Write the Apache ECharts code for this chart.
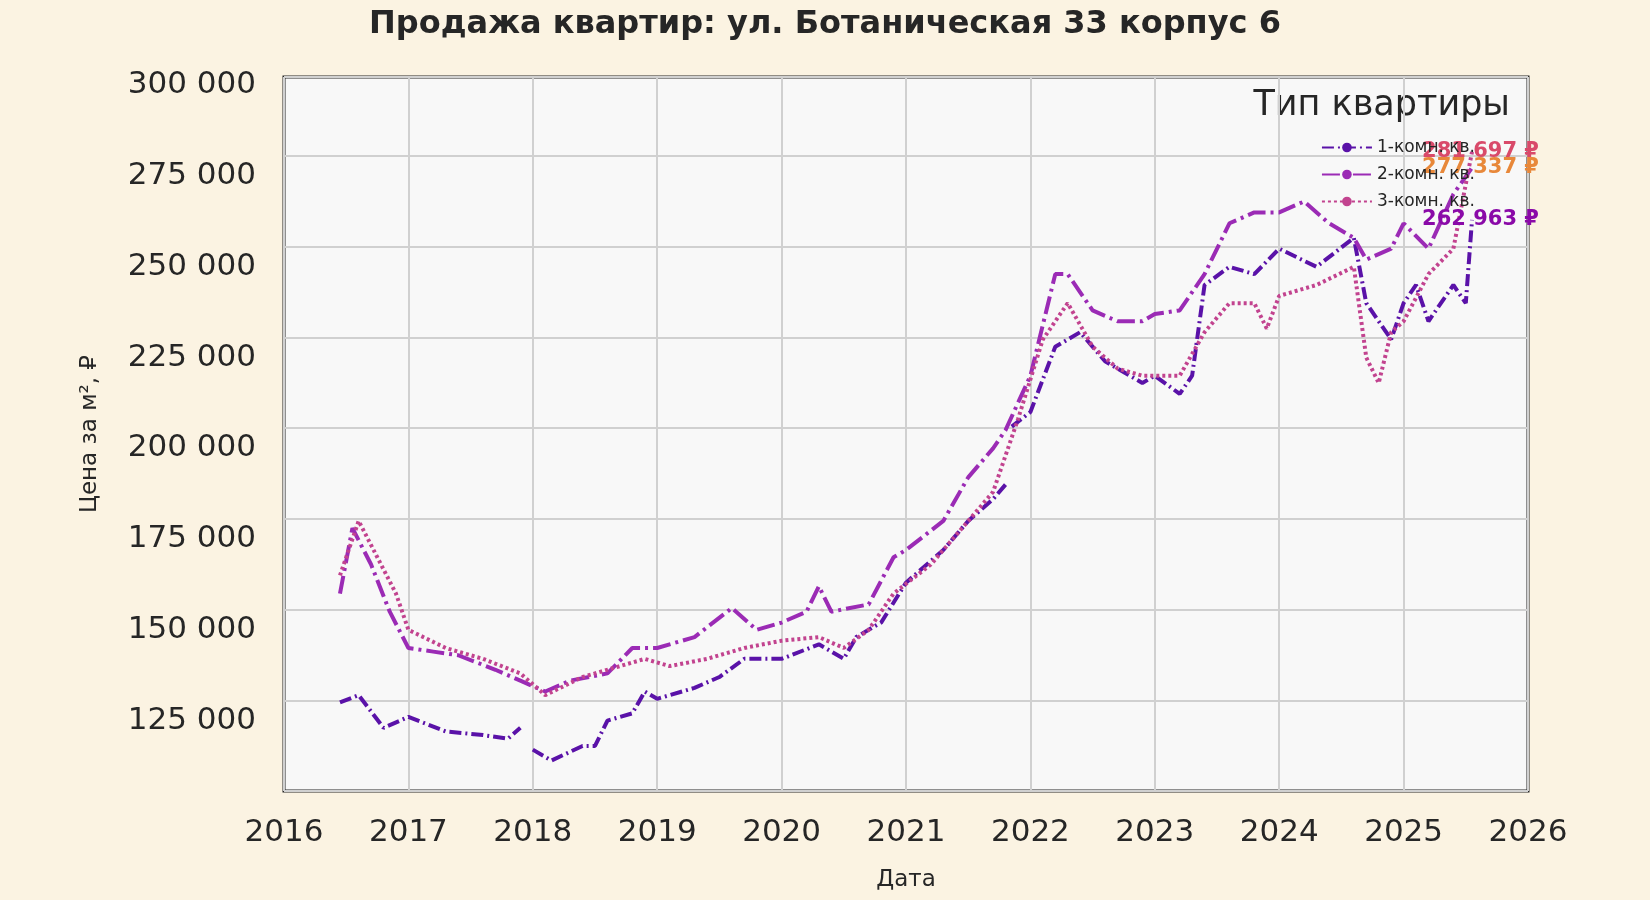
<!DOCTYPE html><html><head><meta charset="utf-8"><script src="https://cdn.jsdelivr.net/npm/echarts@6/dist/echarts.min.js"></script>
<style>html,body{margin:0;background:#fbf3e2}#c{width:1650px;height:900px}</style></head><body><div id="c"></div><script>
const names=['1-комн. кв.','2-комн. кв.','3-комн. кв.'];
const yearTicks=[2016,2017,2018,2019,2020,2021,2022,2023,2024,2025,2026];
const s1x=[2016.45,2016.6,2016.8,2017.0,2017.3,2017.6,2017.8,2017.9,null,2018.0,2018.15,2018.4,2018.5,2018.6,2018.8,2018.9,2019.0,2019.3,2019.5,2019.7,2020.0,2020.3,2020.5,2020.6,2020.8,2021.0,2021.3,2021.5,2021.7,2021.8,null,2021.85,2022.0,2022.2,2022.4,2022.6,2022.9,2023.0,2023.2,2023.3,2023.4,2023.6,2023.8,2024.0,2024.3,2024.6,2024.7,2024.9,2025.0,2025.1,2025.2,2025.4,2025.5,2025.55];
const s1y=[130000,132000,123000,126000,122000,121000,120000,123000,null,117000,114000,118000,118000,125000,127000,133000,131000,134000,137000,142000,142000,146000,142000,148000,152000,163000,172000,180000,186000,190000,null,206000,210000,228000,232000,224000,218000,220000,215000,220000,245000,250000,248000,255000,250000,258000,240000,230000,240000,245000,235000,245000,240000,262963];
const s2x=[2016.45,2016.55,2016.7,2016.85,2017.0,2017.2,2017.4,2017.7,2017.9,2018.1,2018.3,2018.6,2018.8,2019.0,2019.3,2019.6,2019.8,2020.0,2020.2,2020.3,2020.4,2020.7,2020.9,2021.0,2021.3,2021.5,2021.7,2021.8,2022.0,2022.2,2022.3,2022.5,2022.7,2022.9,2023.0,2023.2,2023.4,2023.6,2023.8,2024.0,2024.2,2024.4,2024.6,2024.7,2024.9,2025.0,2025.2,2025.4,2025.55];
const s2y=[160000,178000,168000,155000,145000,144000,143000,139000,136000,133000,136000,138000,145000,145000,148000,156000,150000,152000,155000,162000,155000,157000,170000,172000,180000,192000,200000,205000,220000,248000,248000,238000,235000,235000,237000,238000,248000,262000,265000,265000,268000,262000,258000,252000,255000,262000,255000,270000,277337];
const s3x=[2016.45,2016.6,2016.75,2016.9,2017.0,2017.3,2017.6,2017.9,2018.1,2018.4,2018.7,2018.9,2019.1,2019.4,2019.7,2020.0,2020.3,2020.5,2020.7,2020.9,2021.2,2021.5,2021.7,2021.9,2022.1,2022.3,2022.5,2022.7,2022.9,2023.2,2023.4,2023.6,2023.8,2023.9,2024.0,2024.3,2024.6,2024.7,2024.8,2024.9,2025.0,2025.2,2025.4,2025.55];
const s3y=[165000,180000,170000,160000,150000,145000,142000,138000,132000,137000,140000,142000,140000,142000,145000,147000,148000,145000,150000,160000,168000,180000,188000,208000,230000,240000,228000,222000,220000,220000,232000,240000,240000,233000,242000,245000,250000,225000,218000,232000,235000,248000,255000,281697];
const colors=['#5a12a8','#9b2bb5','#c2438f'];
const endColors=['#8a0aa8','#e8883a','#d94a6a'];
const dashes=[[12,4,2,4],[18,5,3,5],[3,3]];
const fmt=v=>String(Math.round(v)).replace(/\B(?=(\d{3})+(?!\d))/g,' ');
const zip=(x,y)=>x.map((v,i)=>v===null?[null,null]:[v,y[i]]);
const data=[zip(s1x,s1y),zip(s2x,s2y),zip(s3x,s3y)];
const ch=echarts.init(document.getElementById('c'));
ch.setOption({backgroundColor:'#fbf3e2',
title:{text:'Продажа квартир: ул. Ботаническая 33 корпус 6',left:'center',top:4,textStyle:{fontSize:32,fontWeight:'bold',color:'#262626',fontFamily:'DejaVu Sans'}},
grid:{left:284,right:122,top:77,bottom:109,show:true,backgroundColor:'#f8f8f8',borderColor:'#262626',borderWidth:3},
xAxis:{type:'value',min:2016,max:2026,interval:1,name:'Дата',nameLocation:'middle',nameGap:78,nameTextStyle:{fontSize:23,color:'#262626',fontFamily:'DejaVu Sans'},
axisLabel:{fontSize:31,color:'#262626',margin:26,fontFamily:'DejaVu Sans',formatter:v=>String(v)},axisLine:{show:false},axisTick:{show:false},splitLine:{lineStyle:{color:'#d0d0d0',width:2}}},
yAxis:{type:'value',min:105600,max:302300,interval:25000,name:'Цена за м², ₽',nameLocation:'middle',nameGap:182,nameTextStyle:{fontSize:23,color:'#262626',fontFamily:'DejaVu Sans'},
axisLabel:{fontSize:31,color:'#262626',margin:28,fontFamily:'DejaVu Sans',formatter:v=>fmt(v),customValues:[125000,150000,175000,200000,225000,250000,275000,300000]},
axisLine:{show:false},axisTick:{show:false},splitLine:{lineStyle:{color:'#d0d0d0',width:2}}},
legend:{orient:'vertical',right:170,top:134,itemGap:10,itemWidth:50,itemHeight:12,textStyle:{fontSize:17,color:'#262626',fontFamily:'DejaVu Sans'},data:names},
graphic:[{type:'text',right:140,top:88,style:{text:'Тип квартиры',fontSize:35,fill:'#262626',fontFamily:'DejaVu Sans'}}],
series:data.map((d,i)=>({name:names[i],type:'line',data:d,symbol:'none',connectNulls:false,color:colors[i],
lineStyle:{width:4,type:dashes[i],color:colors[i]},
endLabel:{show:true,formatter:p=>fmt(p.value[1])+' ₽',color:endColors[i],fontSize:21,fontWeight:'bold',offset:[-58,0],fontFamily:'DejaVu Sans'}}))
});
</script></body></html>
